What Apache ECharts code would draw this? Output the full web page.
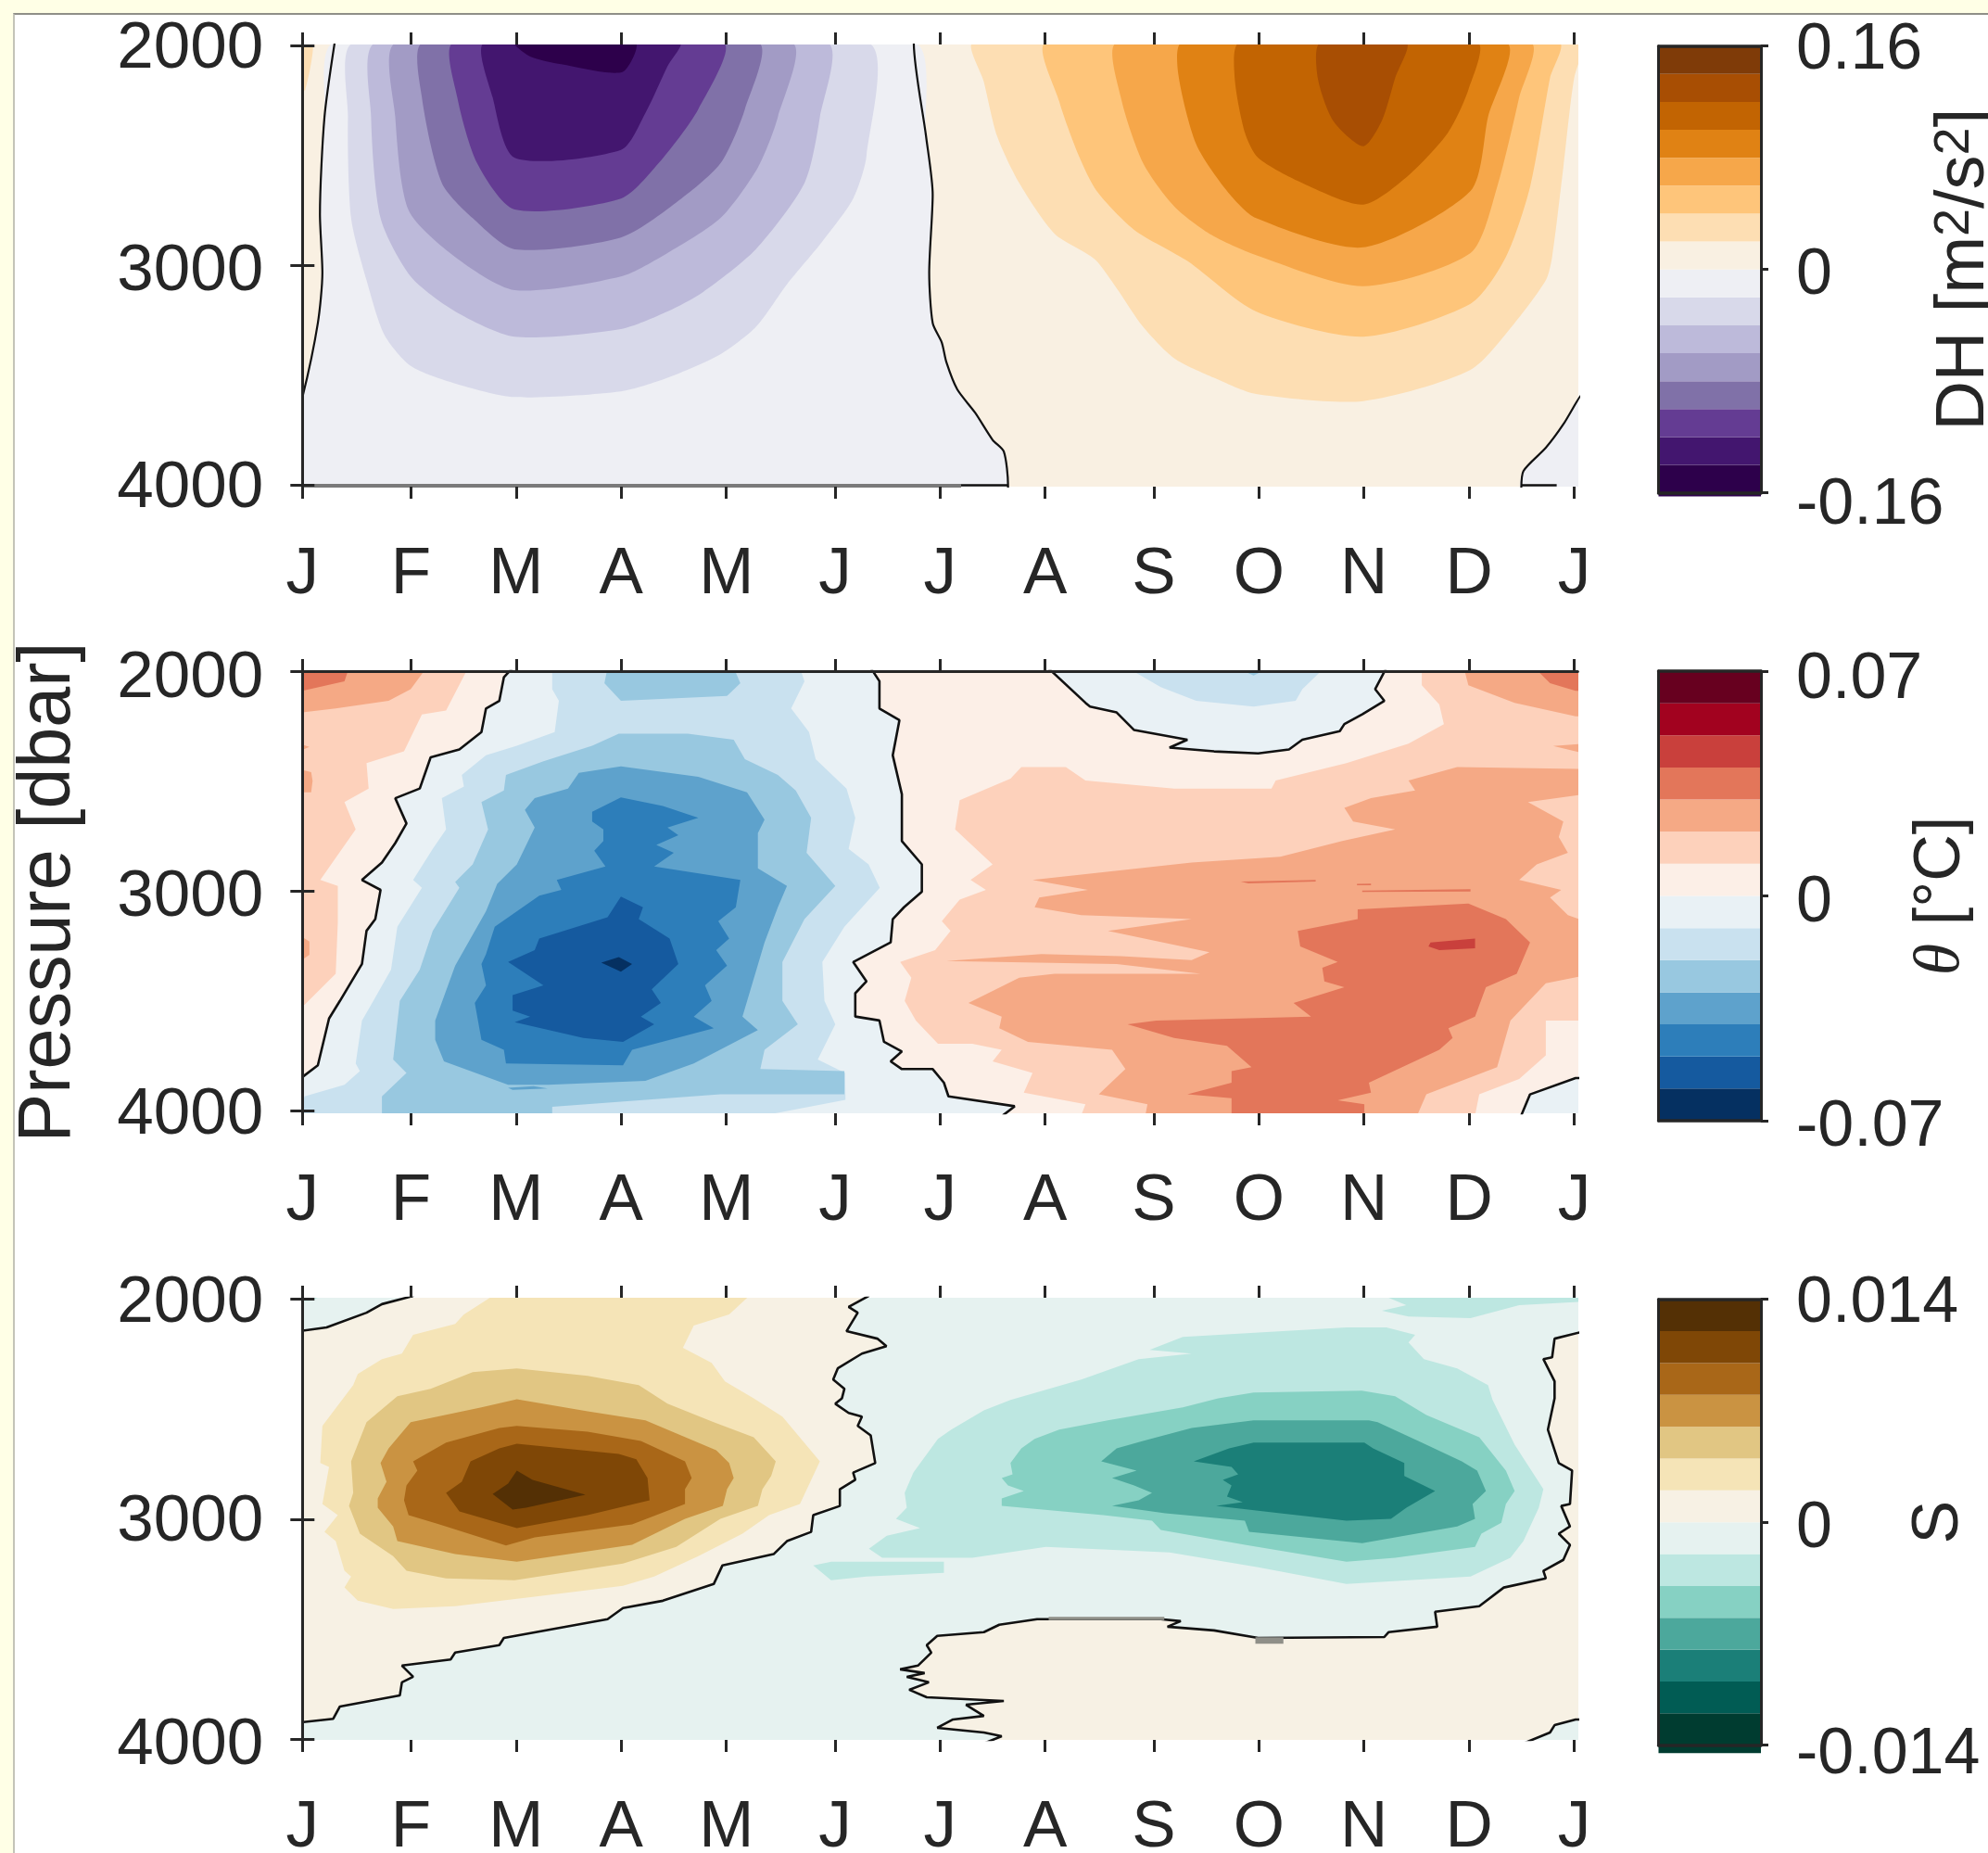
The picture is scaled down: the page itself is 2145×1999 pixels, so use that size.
<!DOCTYPE html>
<html><head><meta charset="utf-8">
<style>
html,body{margin:0;padding:0;background:#ffffe6;width:2145px;height:1999px;overflow:hidden}
#frame{position:absolute;left:14px;top:14px;width:2131px;height:1985px;background:#fff;border-left:2px solid #c4c4b8;border-top:2px solid #8f8f88;box-sizing:border-box}
#chart{position:absolute;left:0;top:0;width:2145px;height:1999px}
</style>
<script src="https://cdn.jsdelivr.net/npm/echarts@6/dist/echarts.min.js"></script>
</head><body><div id="frame"></div><div id="chart"></div>
<script>
const monthLetters = ['J','F','M','A','M','J','J','A','S','O','N','D','J'];
const monthTickDays = [0,31,61,91,121,152,182,212,243,273,303,333,363];
const pressureTicks = [2000,3000,4000];

const dhColors = ['#2d004b','#43166f','#643c93','#8071a8','#a29bc5','#bdbada','#d8d9ea','#eeeff4','#f9f0e2','#fddeb3','#fec57a','#f6a74a','#e08214','#c26402','#a84e03','#7f3b08'];
const dhLevels = [-0.1625,-0.14,-0.12,-0.10,-0.08,-0.06,-0.04,-0.02,0,0.02,0.04,0.06,0.08,0.10,0.12,0.14,0.16];
const thetaColors = ['#053061','#155a9f','#2d7eba','#5ea2cc','#98c8e0','#c9e1ef','#e9f1f5','#fcefe7','#fdd1bb','#f5a985','#e3765a','#c9403c','#a2021f','#67001f'];
const thetaLevels = [-0.07,-0.06,-0.05,-0.04,-0.03,-0.02,-0.01,0,0.01,0.02,0.03,0.04,0.05,0.06,0.07];
const saltColors = ['#003c30','#015c54','#1b7f78','#4ca89c','#86d1c3','#bde7e1','#e6f2f0','#f7f1e4','#f5e4b7','#e1c683','#ca9342','#a96718','#7f4706','#543005'];
const saltLevels = [-0.0145,-0.012,-0.01,-0.008,-0.006,-0.004,-0.002,0,0.002,0.004,0.006,0.008,0.01,0.012,0.014];

/* DH contours: [day of year, pressure in dbar] */
const dhZeroMain = [[9.2,1985],[6.3,2323],[5,2766],[5.7,3032],[4.4,3262],[0,3600],[-1,3610],[-1,4020],[201.4,4020],[201.4,4000],[200.2,3847],[197,3794],[192,3670],[186.9,3564],[183.8,3440],[182.5,3351],[179.9,3262],[178.9,3032],[179.9,2677],[178,2411],[174.5,1985]];
const dhZeroCorner = [[347.9,4020],[348.5,3936],[354.9,3830],[359.9,3723],[365,3590],[366,4020]];
const dhFloorGray = [[0,4003],[188,4003]];
const dhFloorBlack = [[188,4001],[201.4,4001]];
const dhFloorCorner = [[348,4001],[358,4001]];
const dhPos2Corner = [[-1,1985],[3,1985],[0.8,2200],[-1,2200]];
const dhNeg2 = [[14.8,1985],[13,2323],[13.9,2784],[18.3,3067],[23.4,3316],[30.9,3457],[43.6,3537],[60.6,3599],[90.9,3573],[104.2,3511],[119.3,3404],[129.4,3280],[138.3,3085],[148.4,2890],[157.2,2695],[161,2500],[161.2,1985]];
const dhNeg3 = [[21.1,1985],[19.6,2323],[22.3,2784],[30.9,3050],[43.6,3209],[60.6,3324],[90.9,3289],[104.2,3209],[114.3,3121],[129.4,2926],[143.3,2624],[147.7,2323],[149.6,1985]];
const dhNeg4 = [[26.9,1985],[26.5,2323],[30.3,2748],[43.6,2961],[60.6,3112],[90.9,3050],[104.2,2943],[119.3,2784],[130,2553],[135.7,2323],[139.5,1985]];
const dhNeg5 = [[34.5,1985],[34.1,2234],[39.8,2624],[48.6,2784],[60.6,2926],[90.9,2872],[106.7,2713],[119.3,2535],[126.3,2287],[130,1985]];
const dhNeg6 = [[43.2,1985],[44.2,2234],[49.9,2535],[60.6,2745],[90.9,2695],[101.6,2535],[113,2287],[120,1985]];
const dhNeg7 = [[52,1985],[54.3,2234],[60.6,2509],[90.9,2473],[97.9,2305],[104.2,2092],[107.7,1985]];
const dhNeg8 = [[60.6,1985],[65,2048],[73.9,2083],[91.3,2119],[95,1985]];
const dhPos2 = [[191.6,1985],[194.5,2163],[198.3,2411],[204.6,2624],[214.7,2855],[226.1,2970],[232.4,3103],[240,3280],[248.8,3422],[260.2,3511],[272.2,3585],[302.8,3617],[333.4,3475],[346,3262],[354.9,3067],[356.7,2961],[359.9,2553],[363,2145],[366,2000],[366,1985]];
const dhPos3 = [[212.4,1985],[216,2252],[221.6,2500],[226.7,2660],[237.4,2837],[252.6,2979],[272.2,3209],[302.8,3324],[333.4,3174],[343.5,2961],[350.4,2642],[356.1,2145],[358.6,1985]];
const dhPos4 = [[232.6,1985],[233.6,2234],[240,2535],[248.8,2730],[258.9,2855],[272.2,2952],[302.8,3094],[333.4,2943],[341,2642],[347.3,2234],[350.4,1985]];
const dhPos5 = [[251.1,1985],[250,2128],[255.1,2447],[263.9,2660],[272.2,2784],[302.8,2917],[333.4,2660],[338.4,2323],[343.5,1985]];
const dhPos6 = [[267.5,1985],[266.1,2145],[269,2394],[272.8,2509],[285.4,2624],[302.8,2722],[315.7,2589],[327,2394],[332.8,2199],[335.3,1985]];
const dhPos7 = [[290.5,1985],[289.8,2145],[294.2,2340],[302.8,2456],[308.1,2340],[311.9,2145],[315.1,1985]];

/* Potential temperature contours */
const thetaZeroMain = [[60,1985],[57.5,2028],[56.2,2135],[52.4,2170],[51.1,2277],[44.8,2356],[36.6,2392],[33.5,2534],[26.5,2578],[29.7,2693],[26.5,2782],[22.7,2871],[17,2950],[22.3,2995],[20.8,3128],[18.3,3181],[17,3332],[10.7,3500],[7.6,3580],[4.4,3793],[0,3846],[-1,3846],[-1,4020],[200,4020],[203.3,3979],[184.4,3934],[183.1,3872],[179.9,3810],[171.1,3810],[167.9,3775],[171.1,3730],[166,3686],[164.7,3589],[157.8,3571],[157.8,3465],[161,3411],[157.2,3323],[167.9,3234],[168.5,3128],[171.7,3074],[176.8,3003],[176.8,2879],[171.1,2773],[171.1,2560],[168.5,2383],[170.4,2223],[164.7,2170],[164.7,2046],[162.2,1985]];
const thetaZeroTop = [[212.8,1985],[223.5,2144],[224.8,2161],[232.4,2188],[237.4,2268],[252.6,2312],[247.5,2348],[260.2,2365],[272.8,2374],[281.6,2356],[285.4,2312],[296.1,2273],[297.4,2241],[302.5,2197],[308.8,2135],[306.2,2082],[309.4,1985]];
const thetaZeroCorner = [[347.9,4020],[350.4,3925],[363.4,3851],[366,3851],[366,4020]];
const thetaNeg2 = [[71.3,1985],[71.3,2082],[73.2,2135],[72,2277],[61.2,2339],[52.4,2383],[45.5,2472],[46.1,2525],[39.8,2578],[41,2720],[37.2,2808],[31.6,2950],[34.1,2986],[27.1,3163],[25.3,3358],[19.6,3518],[17,3589],[15.2,3784],[16.4,3819],[12,3881],[0.6,3934],[-1,4020],[132,4020],[155,3950],[154.9,3828],[147.1,3766],[152.1,3606],[149,3500],[148.4,3323],[154.7,3163],[164.8,2986],[161.6,2879],[155.9,2808],[157.8,2667],[155.3,2534],[146.5,2401],[144.6,2277],[139.5,2170],[143.3,2046],[142,1985]];
const thetaNeg2Top = [[235.5,1985],[245,2073],[255.1,2135],[271.5,2161],[283.5,2135],[285.4,2082],[291.7,1985]];
const thetaNeg3Top = [[266.5,1985],[276,1985],[271.5,2020]];
const thetaNeg3Blob = [[87.1,1985],[86.2,2055],[90.9,2135],[121.2,2113],[125,2055],[123.1,1985]];
const thetaNeg3 = [[90.3,2285],[82.7,2339],[68.8,2410],[58.1,2472],[57.5,2543],[51.1,2596],[53,2720],[48.6,2879],[43.6,2959],[44.8,2986],[37.2,3181],[33.5,3358],[27.8,3500],[25.9,3766],[29.7,3828],[22.7,3934],[22.7,4020],[71.3,4020],[71.3,3982],[119.3,3925],[154.7,3925],[154.7,3819],[130.7,3810],[131.9,3722],[141.4,3606],[137,3500],[137,3323],[143.3,3128],[152.1,2977],[143.9,2826],[145.2,2667],[140.8,2543],[135.7,2472],[126.3,2401],[123.1,2312],[110,2285]];
const thetaNeg4 = [[90.9,2433],[78.9,2463],[75.8,2534],[66.3,2578],[63.5,2631],[66.3,2711],[61.2,2879],[55.6,2968],[52.4,3092],[43.6,3340],[37.9,3589],[37.9,3677],[40.4,3775],[58.7,3881],[70.1,3881],[97.9,3863],[111.7,3784],[130,3633],[125.6,3571],[131.9,3234],[135.7,3074],[138.3,2977],[130,2897],[130,2737],[131.9,2676],[126.9,2551],[113,2481]];
const thetaNeg4Spot = [[58.7,3895],[66,3888],[70,3898],[60,3905]];
const thetaNeg5 = [[90.9,2574],[82.7,2640],[82.7,2684],[85.9,2720],[85.9,2773],[83.3,2817],[86.5,2888],[72.6,2950],[73.9,2995],[67.6,3021],[54.9,3163],[52.4,3287],[51.1,3332],[52.4,3429],[49.2,3509],[51.1,3677],[57.5,3722],[58.1,3784],[91.5,3793],[94.1,3722],[117.4,3624],[111.7,3571],[116.8,3500],[114.9,3429],[121.2,3340],[118.1,3269],[121.8,3216],[118.7,3137],[123.7,3074],[125,2950],[100.4,2888],[106,2826],[101,2791],[107.3,2746],[104.2,2711],[113,2667],[102.9,2613]];
const thetaNeg6 = [[90.9,3025],[87.1,3119],[67.6,3216],[66.3,3269],[58.7,3323],[68.8,3429],[60,3473],[60,3544],[65,3571],[60.6,3597],[80.2,3668],[91.5,3686],[100.4,3606],[96.6,3571],[102.3,3509],[99.7,3447],[107.3,3332],[104.8,3216],[96,3128],[97.2,3074]];
const thetaNeg7 = [[85.3,3326],[90.3,3301],[94.1,3332],[90.9,3367]];
const thetaPos2Left = [[-1,1985],[47.3,1985],[43.6,2099],[41,2179],[34.1,2197],[29,2365],[18.3,2418],[18.9,2534],[12,2596],[15.2,2720],[8.2,2879],[5.1,2950],[10.1,2977],[10.1,3145],[9.5,3376],[0.6,3518],[-1,3518]];
const thetaPos3Left = [[-1,1985],[35.4,1985],[30.9,2082],[24.6,2135],[9.5,2170],[0,2188],[-1,2188]];
const thetaPos4Left = [[-1,1985],[13.3,1985],[12,2046],[0,2090],[-1,2090]];
const thetaEdgeA = [[-1,2445],[2.5,2460],[2.9,2500],[2.5,2551],[-1,2551]];
const thetaEdgeB = [[-1,3200],[2,3230],[2,3290],[-1,3323]];
const thetaEdgeC = [[-1,2330],[2,2345],[-1,2365]];
const thetaPos2Right = [[319.5,1985],[319.5,2064],[324.5,2152],[325.8,2241],[315.7,2330],[298,2418],[277.8,2498],[276.6,2534],[248.8,2534],[223.5,2498],[217.9,2436],[205.2,2436],[202.1,2489],[187.6,2587],[186.3,2720],[197,2879],[190.7,2950],[195.1,2995],[187.6,3039],[182.5,3137],[185,3181],[180.6,3269],[170.6,3323],[173.8,3394],[171.9,3500],[175.1,3589],[181.4,3695],[191.2,3695],[199.6,3722],[197,3775],[208.4,3828],[205.9,3917],[223.5,3970],[222.3,4020],[334.7,4020],[335.9,3925],[347.3,3855],[354.9,3748],[354.9,3589],[366,3589],[366,1985]];
const thetaPos3Top = [[331.5,1985],[332.8,2064],[346,2144],[363.4,2206],[366,2206],[366,1985]];
const thetaPos4Top = [[351.7,1985],[356.1,2055],[363.4,2090],[366,2090],[366,1985]];
const thetaPos3Spot = [[357,2340],[366,2330],[366,2375]];
const thetaPos3 = [[366,2445],[329.6,2436],[315.7,2498],[317.6,2543],[305,2578],[297.4,2622],[299.9,2684],[311.9,2720],[296.8,2773],[279.1,2844],[253.8,2871],[208.4,2950],[224.2,2995],[210.3,3030],[209,3074],[222.3,3110],[253.8,3128],[229.9,3181],[258.9,3278],[253.8,3314],[233.6,3296],[210.9,3287],[183.8,3319],[232.4,3332],[256.4,3376],[214.7,3376],[204.6,3394],[190.1,3509],[199.6,3571],[198.9,3624],[207.1,3686],[231.1,3722],[234.9,3810],[227.3,3925],[241.2,3970],[240.6,4020],[318.2,4020],[320.8,3925],[341,3801],[344.8,3589],[354.9,3420],[366,3385],[366,3137],[361.2,3110],[356.1,3030],[359.3,2995],[347.3,2950],[352.3,2879],[361.2,2826],[358.6,2755],[359.9,2684],[349.8,2596],[366,2560]];
const thetaPos4 = [[301.2,3083],[332.8,3057],[343.5,3128],[350.4,3234],[346.6,3376],[337.8,3438],[334.7,3571],[327.1,3624],[328.3,3668],[324.5,3722],[304.4,3872],[305,3917],[295.5,3952],[303.1,3970],[303.1,4020],[265.2,4020],[265.2,3943],[252.6,3925],[265.2,3872],[265.2,3819],[270.9,3801],[263.9,3704],[248.8,3668],[235.5,3606],[243.7,3589],[287.9,3571],[282.9,3509],[297.4,3438],[291.7,3411],[291.1,3349],[295.5,3323],[284.8,3252],[284.1,3181],[301.2,3128]];
const thetaPos4StreakA = [[267.8,2957],[289.2,2950],[289.2,2957],[270,2965]];
const thetaPos4StreakB = [[302.5,2998],[333.4,2992],[333.4,3002],[302.5,3004]];
const thetaPos4StreakC = [[301,2968],[305,2966],[305,2974],[301,2974]];
const thetaPos5 = [[322,3234],[334.7,3216],[334.7,3261],[324.5,3269],[321.4,3252]];

/* Salinity contours */
const saltZeroLeft = [[-1,2145],[6.9,2128],[18.3,2061],[22.7,2022],[31.6,1985],[161.6,1985],[155.9,2035],[158.5,2061],[155.3,2145],[164.1,2179],[166.7,2213],[159.7,2247],[152.8,2314],[151.5,2365],[154.7,2407],[154,2450],[152.1,2475],[155.9,2517],[159.7,2534],[158.5,2576],[162.2,2619],[163.5,2745],[157.2,2788],[157.8,2821],[153.4,2864],[153.4,2940],[145.8,2982],[145.2,3058],[138.3,3100],[134.5,3159],[119.9,3210],[117.4,3295],[102.9,3371],[91.5,3404],[87.1,3455],[57.5,3540],[56.2,3573],[43.6,3607],[42.3,3638],[28.4,3666],[31.6,3717],[28.4,3742],[27.8,3802],[10.7,3852],[8.8,3908],[-1,3925]];
const saltZeroRight = [[366,2145],[357.4,2179],[356.7,2264],[354.2,2272],[357.4,2373],[357.4,2450],[355.5,2593],[358.6,2745],[362.4,2779],[361.8,2931],[359.3,2940],[361.8,3033],[358.6,3066],[361.8,3117],[359.9,3185],[354.2,3235],[354.9,3269],[342.9,3311],[335.9,3396],[323.3,3421],[323.9,3489],[310,3514],[308.8,3536],[272.8,3540],[260.2,3506],[246.9,3489],[250.7,3464],[245,3455],[209.7,3455],[198.9,3480],[194.5,3514],[181.2,3531],[178.2,3573],[179.5,3607],[175.7,3666],[170.6,3683],[177.6,3700],[172.5,3717],[178.8,3742],[173.2,3776],[178.2,3810],[200.2,3827],[189.4,3844],[194.5,3895],[185.7,3911],[181.2,3949],[194.5,3970],[199.6,3987],[194.5,4020],[348.5,4020],[356.1,3970],[357.4,3937],[363.4,3911],[366,3911]];
const saltGrayA = [[213,3452],[246,3452]];
const saltGrayB = [[272,3552],[280,3552]];
const saltPos2 = [[54.3,1985],[46.1,2069],[43.6,2112],[31.6,2162],[28.4,2247],[22.7,2272],[15.8,2340],[14.5,2390],[5.7,2576],[5.1,2745],[7.6,2762],[5.7,2931],[10.1,2982],[6.3,3058],[9.5,3100],[12,3235],[13.9,3261],[12,3311],[15.8,3371],[25.9,3408],[43.6,3396],[65.7,3354],[91.5,3303],[100.4,3261],[113,3168],[125.6,3066],[133.2,2982],[142,2931],[147.7,2737],[137,2534],[128.8,2450],[120.6,2373],[116.8,2289],[108.6,2221],[111.7,2120],[121.8,2069],[127.5,1985]];
const saltPos3 = [[61.2,2314],[48.6,2331],[36.6,2407],[27.1,2441],[18.3,2559],[13.9,2737],[14.5,2880],[13.3,2940],[16.4,3066],[25.9,3168],[29.7,3235],[41,3269],[60.6,3278],[91.5,3202],[106.7,3126],[119.3,2999],[130,2940],[131.3,2864],[133.8,2804],[135.1,2737],[128.8,2627],[117.4,2559],[104.2,2475],[96,2390],[81.4,2348]];
const saltPos4 = [[61.2,2455],[51.1,2492],[30.9,2559],[24.6,2678],[22.3,2745],[24,2830],[21.5,2906],[21.5,2948],[25.9,3033],[27.1,3100],[43.6,3159],[61.2,3193],[94.1,3117],[109.2,2999],[120,2940],[121.2,2864],[123.1,2813],[121.8,2745],[118.1,2686],[97.9,2551],[81.4,2509]];
const saltPos5 = [[61.2,2576],[56.2,2585],[41,2652],[31.6,2737],[32.8,2779],[29.7,2847],[29,2914],[30.3,2982],[39.1,3024],[58.1,3120],[66.3,3083],[94.1,3024],[109.2,2931],[109.2,2864],[111.1,2813],[109.2,2737],[96.6,2644],[81.4,2602]];
const saltPos6 = [[61.2,2657],[56.2,2678],[48,2737],[45.5,2830],[41,2880],[44.8,2965],[61.2,3041],[81.4,2982],[99.1,2914],[98.5,2813],[95.3,2728],[90.3,2703]];
const saltPos7 = [[61.2,2779],[58.7,2838],[54.3,2886],[60,2956],[63.8,2948],[80.8,2889],[65.7,2821]];
const saltNeg2 = [[309.4,2128],[298,2128],[251.3,2171],[241.8,2230],[253.8,2247],[238.7,2272],[222.3,2365],[202.1,2458],[194.5,2505],[185.2,2593],[181.4,2635],[174.4,2788],[171.9,2880],[172.5,2948],[169.4,2999],[176.3,3041],[166.8,3075],[161.7,3134],[165.5,3176],[191.2,3176],[212.2,3126],[247.5,3151],[272.8,3219],[298,3295],[333.4,3261],[344.8,3176],[348.5,3100],[352.9,2948],[354.2,2864],[346,2661],[339.7,2458],[338.4,2390],[329.6,2314],[320.1,2272],[315.7,2196],[317.6,2162]];
const saltNeg2Blob = [[145.8,3210],[150.9,3278],[161,3261],[183.1,3244],[183.1,3193],[151,3193]];
const saltNeg2Top = [[308.8,1985],[315.1,2027],[308.1,2052],[315.7,2078],[333.4,2086],[347.3,2027],[366,2010],[366,1985]];
const saltNeg2Corner = [[-1,1985],[5.7,1985],[2,2008],[-1,2008]];
const saltNeg3 = [[302.4,2416],[271.5,2424],[261.4,2450],[251.3,2492],[229.9,2551],[216,2593],[209,2635],[205.2,2678],[202.1,2745],[202.7,2796],[199.6,2813],[201.4,2847],[205.9,2872],[199.6,2906],[199.6,2940],[228.6,2982],[242.5,3007],[245,3049],[269,3117],[298,3193],[311.9,3176],[334.7,3126],[336.5,3066],[342.2,3016],[343.5,2931],[346,2872],[343.5,2779],[335.9,2627],[320.8,2526],[311.9,2441]];
const saltNeg4 = [[304.4,2551],[271.5,2551],[253.8,2585],[239.9,2644],[232.4,2678],[228,2737],[238.1,2779],[231.1,2813],[237.4,2847],[242.5,2880],[238.7,2914],[231.1,2940],[246.3,2973],[269,3007],[270.2,3058],[302.5,3109],[329.6,3033],[334.7,2999],[334,2931],[337.8,2872],[335.3,2779],[330.9,2737],[319.5,2652],[306.9,2559]];
const saltNeg5 = [[303.1,2652],[271.5,2652],[264.5,2678],[254.4,2737],[265.2,2762],[267.1,2796],[262.7,2821],[265.2,2847],[263.9,2897],[268.4,2923],[260.8,2940],[279.1,2973],[298,3007],[310.7,2999],[315.1,2948],[323.3,2872],[314.5,2804],[314.5,2745],[305.6,2678]];

const FULL = [[-1,1985],[366,1985],[366,4020],[-1,4020]];
const INK = '#262626', FONT = 'Liberation Sans, Arial, sans-serif';

const panels = [
 { colors: dhColors, levels: dhLevels, ticks: [-0.16,0,0.16], labels: ['-0.16','0','0.16'], smooth: 0.25, lineW: 2.2,
   leftShift: [4,7,4], barShift: [14,7,5],
   yRange: [1993,4007], top: 48, barTop: 49.7, barH: 482, leftLine: true, topLine: false,
   name: 'DH [m{sup|2}/s{sup|2}]', nameGap: 182, nameSize: 74,
   layers: [[8,FULL],[7,dhZeroMain],[7,dhZeroCorner],[9,dhPos2Corner],[6,dhNeg2],[5,dhNeg3],[4,dhNeg4],[3,dhNeg5],[2,dhNeg6],[1,dhNeg7],[0,dhNeg8],
            [9,dhPos2],[10,dhPos3],[11,dhPos4],[12,dhPos5],[13,dhPos6],[14,dhPos7]],
   zero: [dhZeroMain,dhZeroCorner], extra: [[dhFloorGray,'#7a7a7a',4],[dhFloorBlack,'#111',2.5],[dhFloorCorner,'#111',2.5]] },
 { colors: thetaColors, levels: thetaLevels, ticks: [-0.07,0,0.07], labels: ['-0.07','0','0.07'], smooth: 0, lineW: 2.6,
   leftShift: [8,7,5], barShift: [8,8,10],
   yRange: [2000,4011], top: 724, barTop: 724, barH: 485, leftLine: true, topLine: true,
   name: '{it|θ} [°C]', nameGap: 160, nameSize: 70, yName: 'Pressure [dbar]',
   layers: [[7,FULL],[6,thetaZeroMain],[6,thetaZeroTop],[6,thetaZeroCorner],[5,thetaNeg2],[5,thetaNeg2Top],[4,thetaNeg3Top],[4,thetaNeg3Blob],[4,thetaNeg3],[3,thetaNeg4],[3,thetaNeg4Spot],[2,thetaNeg5],[1,thetaNeg6],[0,thetaNeg7],
            [8,thetaPos2Left],[9,thetaPos3Left],[10,thetaPos4Left],[9,thetaEdgeA],[9,thetaEdgeB],[9,thetaEdgeC],
            [8,thetaPos2Right],[9,thetaPos3Top],[10,thetaPos4Top],[9,thetaPos3Spot],[9,thetaPos3],[10,thetaPos4],[10,thetaPos4StreakA],[10,thetaPos4StreakB],[10,thetaPos4StreakC],[11,thetaPos5]],
   zero: [thetaZeroMain,thetaZeroTop,thetaZeroCorner], extra: [] },
 { colors: saltColors, levels: saltLevels, ticks: [-0.014,0,0.014], labels: ['-0.014','0','0.014'], smooth: 0, lineW: 2.6,
   leftShift: [5,4,7], barShift: [11,8,5],
   yRange: [1993,4004], top: 1400, barTop: 1401.7, barH: 481, leftLine: true, topLine: false,
   name: 'S', nameGap: 158, nameSize: 70,
   layers: [[6,FULL],[7,saltZeroLeft],[7,saltZeroRight],[8,saltPos2],[9,saltPos3],[10,saltPos4],[11,saltPos5],[12,saltPos6],[13,saltPos7],
            [5,saltNeg2],[5,saltNeg2Blob],[5,saltNeg2Top],[5,saltNeg2Corner],[4,saltNeg3],[3,saltNeg4],[2,saltNeg5]],
   zero: [saltZeroLeft,saltZeroRight], extra: [[saltGrayA,'#8f8f88',3.5],[saltGrayB,'#8f8f88',7]] }
];

const tickLine = w => ({ color: INK, width: w });
const shiftedRich = (shifts, size) => Object.fromEntries(shifts.map((s, i) => ['s' + i,
  { fontSize: size, fontFamily: FONT, color: INK, lineHeight: size, verticalAlign: 'top', padding: [s,0,0,0] }]));
/* A closed contour's stretch along the plot's top or bottom must not show: route it further outside the clip. */
function contourPath(arr) {
  const closed = arr.concat([arr[0]]), out = [];
  closed.forEach(function (pt, i) {
    out.push(pt);
    const nx = closed[i + 1];
    if (!nx) return;
    if (pt[1] >= 4020 && nx[1] >= 4020) { out.push([pt[0], 4100], [nx[0], 4100]); }
    if (pt[1] <= 1985 && nx[1] <= 1985) { out.push([pt[0], 1900], [nx[0], 1900]); }
  });
  return out;
}
const grid = [], xAxis = [], yAxis = [], series = [];

panels.forEach(function (p) {
  const g = grid.length;
  grid.push({ left: 326.3, width: 1376, top: p.top, height: 477, outerBoundsMode: 'none', containLabel: false });
  const xb = xAxis.length, yl = yAxis.length;
  const commonX = { type: 'value', gridIndex: g, min: 0, max: 364, splitLine: { show: false }, z: 5 };
  xAxis.push(Object.assign({}, commonX, {
    position: 'bottom', axisLine: { show: false },
    axisTick: { show: true, customValues: monthTickDays, length: 13, lineStyle: tickLine(3) },
    axisLabel: { customValues: monthTickDays, margin: 60, fontSize: 71, fontFamily: FONT, color: INK, hideOverlap: false,
      formatter: v => monthLetters[monthTickDays.indexOf(v)] || '' }
  }));
  xAxis.push(Object.assign({}, commonX, {
    position: 'top', axisLine: { show: p.topLine, lineStyle: tickLine(3) },
    axisTick: { show: true, customValues: monthTickDays, length: 13, lineStyle: tickLine(3) },
    axisLabel: { show: false }
  }));
  const commonY = { type: 'value', gridIndex: g, inverse: true, min: p.yRange[0], max: p.yRange[1], splitLine: { show: false }, z: 5 };
  yAxis.push(Object.assign({}, commonY, {
    position: 'left', axisLine: { show: true, lineStyle: tickLine(3) },
    axisTick: { show: true, customValues: pressureTicks, length: 13, lineStyle: tickLine(3) },
    axisLabel: { customValues: pressureTicks, margin: 42, fontSize: 71, fontFamily: FONT, color: INK, hideOverlap: false,
      rich: shiftedRich(p.leftShift, 71),
      formatter: v => '{s' + pressureTicks.indexOf(v) + '|' + v + '}' },
    name: p.yName || '', nameLocation: 'middle', nameGap: 234, nameMoveOverlap: false,
    nameTextStyle: { fontSize: 79, fontFamily: FONT, color: INK }
  }));
  yAxis.push(Object.assign({}, commonY, {
    position: 'right', axisLine: { show: false },
    axisTick: { show: true, customValues: pressureTicks, length: 13, lineStyle: tickLine(3) },
    axisLabel: { show: false }
  }));
  series.push({
    type: 'custom', xAxisIndex: xb, yAxisIndex: yl, clip: true, silent: true, z: 2,
    data: p.layers.map(l => l[1][0]),
    renderItem: function (params, api) {
      const l = p.layers[params.dataIndex];
      const isFull = l[1] === FULL;
      return { type: 'polygon', shape: { points: l[1].map(pt => api.coord(pt)), smooth: isFull ? 0 : p.smooth }, style: { fill: p.colors[l[0]], stroke: null } };
    }
  });
  p.zero.forEach(function (arr) {
    series.push({ type: 'line', xAxisIndex: xb, yAxisIndex: yl, data: contourPath(arr), showSymbol: false, symbol: 'none', clip: true, silent: true,
      smooth: p.smooth, lineStyle: { color: '#111', width: p.lineW }, z: 3 });
  });
  p.extra.forEach(function (e) {
    series.push({ type: 'line', xAxisIndex: xb, yAxisIndex: yl, data: e[0], showSymbol: false, symbol: 'none', clip: false, silent: true,
      lineStyle: { color: e[1], width: e[2] }, z: 3 });
  });

  /* colour bar */
  const gb = grid.length;
  grid.push({ left: 1789.5, width: 110.5, top: p.barTop, height: p.barH, outerBoundsMode: 'none', containLabel: false });
  const xc = xAxis.length, yc = yAxis.length;
  const bx = { type: 'value', gridIndex: gb, min: 0, max: 1, splitLine: { show: false }, axisTick: { show: false }, axisLabel: { show: false }, z: 5,
    axisLine: { show: true, onZero: false, lineStyle: tickLine(3.5) } };
  xAxis.push(Object.assign({}, bx, { position: 'bottom' }));
  xAxis.push(Object.assign({}, bx, { position: 'top' }));
  const top = p.ticks[2], bot = p.ticks[0];
  const by = { type: 'value', gridIndex: gb, min: bot, max: top, splitLine: { show: false }, z: 5 };
  yAxis.push(Object.assign({}, by, { position: 'left', axisLine: { show: true, onZero: false, lineStyle: tickLine(3) }, axisTick: { show: false }, axisLabel: { show: false } }));
  yAxis.push(Object.assign({}, by, {
    position: 'right', axisLine: { show: true, onZero: false, lineStyle: tickLine(3) },
    axisTick: { show: true, customValues: p.ticks, length: 8, lineStyle: tickLine(3) },
    axisLabel: { customValues: p.ticks, margin: 38, fontSize: 70, fontFamily: FONT, color: INK, hideOverlap: false,
      rich: shiftedRich(p.barShift, 70),
      formatter: v => { const i = p.ticks.indexOf(v); return '{s' + i + '|' + p.labels[i] + '}'; } },
    name: p.name, nameLocation: 'middle', nameRotate: 90, nameGap: p.nameGap, nameMoveOverlap: false,
    nameTextStyle: { fontSize: p.nameSize, fontFamily: FONT, color: INK, rich: {
      sup: { fontSize: 54, fontFamily: FONT, color: INK, verticalAlign: 'top', padding: [0,0,22,0] },
      it: { fontSize: 70, fontFamily: 'Liberation Serif, serif', fontStyle: 'italic', color: INK }
    } }
  }));
  series.push({
    type: 'custom', xAxisIndex: xc, yAxisIndex: yc, clip: false, silent: true, z: 2,
    data: p.colors.map((c, i) => [0, p.levels[i]]),
    renderItem: function (params, api) {
      const i = params.dataIndex;
      const a = api.coord([0, p.levels[i]]), b = api.coord([1, p.levels[i + 1]]);
      return { type: 'rect', shape: { x: a[0], y: b[1], width: b[0] - a[0], height: a[1] - b[1] }, style: { fill: p.colors[i], stroke: null } };
    }
  });
});

const chart = echarts.init(document.getElementById('chart'), null, { renderer: 'canvas' });
chart.setOption({ animation: false, backgroundColor: 'transparent', grid, xAxis, yAxis, series });
</script></body></html>
